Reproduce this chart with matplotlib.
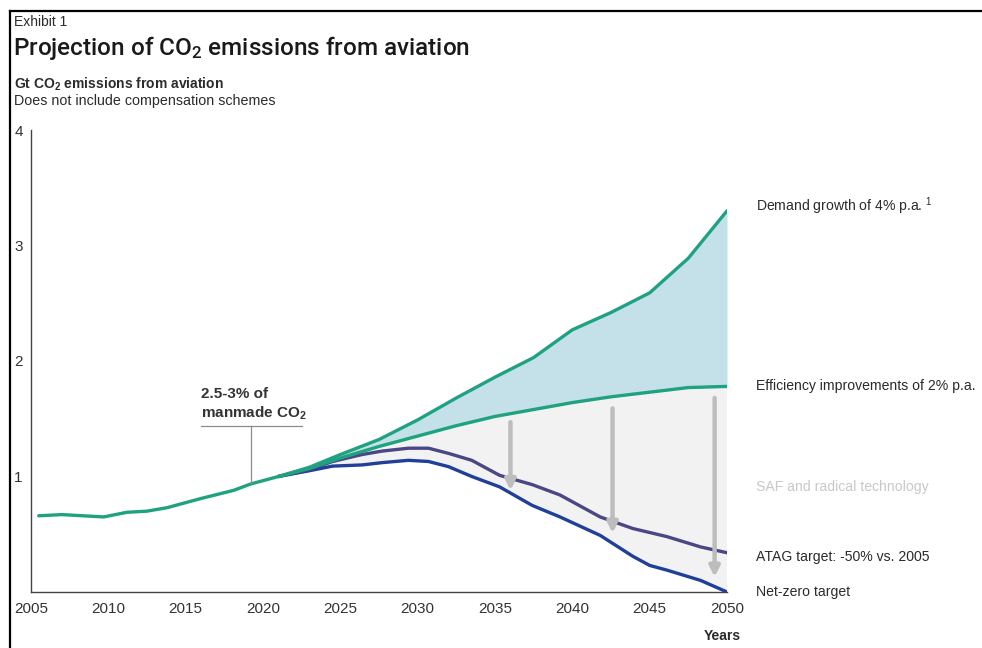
import matplotlib
matplotlib.use("Agg")
import matplotlib.pyplot as plt
from matplotlib.lines import Line2D

# Historical emissions (Gt CO2)
hist_years = [2005.5, 2007, 2009.7, 2011.2, 2012.5, 2013.8, 2016, 2018.1, 2019.2, 2021]
hist_vals = [0.66, 0.67, 0.65, 0.69, 0.70, 0.73, 0.81, 0.88, 0.935, 1.0]

# Projection scenarios
proj_years = [2021, 2023, 2025, 2027.5, 2030, 2032.5, 2035, 2037.5, 2040, 2042.5, 2045, 2047.5, 2050]
demand_vals = [1.0, 1.08, 1.19, 1.32, 1.49, 1.68, 1.86, 2.03, 2.27, 2.42, 2.59, 2.89, 3.30]
efficiency_vals = [1.0, 1.07, 1.16, 1.26, 1.35, 1.44, 1.52, 1.58, 1.64, 1.69, 1.73, 1.77, 1.78]

atag_years = [2021, 2023, 2024.5, 2026.4, 2027.7, 2029.4, 2030.7, 2032, 2033.5, 2035.3,
              2037.4, 2039.2, 2041.8, 2043.9, 2046.1, 2048.3, 2050]
atag_vals = [1.0, 1.06, 1.13, 1.19, 1.22, 1.245, 1.245, 1.20, 1.14, 1.01,
             0.93, 0.84, 0.65, 0.55, 0.48, 0.39, 0.34]

netzero_years = [2021, 2023, 2024.5, 2026.4, 2027.7, 2029.4, 2030.7, 2032, 2033.5, 2035.3,
                 2037.4, 2039.2, 2041.8, 2043.9, 2045, 2046.1, 2048.3, 2050]
netzero_vals = [1.0, 1.05, 1.09, 1.10, 1.12, 1.14, 1.13, 1.085, 1.0, 0.91,
                0.75, 0.65, 0.49, 0.31, 0.23, 0.19, 0.10, 0.0]

# Reduction arrows (year, from, to)
arrow_years = [2036, 2042.6, 2049.2]
arrow_top = [1.47, 1.59, 1.68]
arrow_bottom = [0.88, 0.51, 0.13]

x_ticks = [2005, 2010, 2015, 2020, 2025, 2030, 2035, 2040, 2045, 2050]
y_ticks = [1, 2, 3, 4]

GREEN = "#1fa27f"
PURPLE = "#4b4785"
BLUE = "#1f3f98"
TXT = "#2b2b2b"
BODY = "Liberation Sans"

W, H = 982, 648
fig = plt.figure(figsize=(W / 100, H / 100), dpi=100)
ax = fig.add_axes([31 / W, (H - 592) / H, (727 - 31) / W, (592 - 130) / H])
ax.set_xlim(2005, 2050)
ax.set_ylim(0, 4)

# shaded areas
ax.fill_between(proj_years, efficiency_vals, demand_vals, color="#c4e1ea", lw=0, zorder=1)
ax.fill(proj_years + netzero_years[::-1], efficiency_vals + netzero_vals[::-1],
        color="#f2f2f2", lw=0, zorder=1)

# lines
ax.plot(hist_years, hist_vals, color=GREEN, lw=2.4, solid_capstyle="round", zorder=5)
ax.plot(netzero_years, netzero_vals, color=BLUE, lw=2.4, solid_capstyle="round", zorder=4)
ax.plot(atag_years, atag_vals, color=PURPLE, lw=2.4, solid_capstyle="round", zorder=4)
ax.plot(proj_years, efficiency_vals, color=GREEN, lw=2.4, solid_capstyle="round", zorder=5)
ax.plot(proj_years, demand_vals, color=GREEN, lw=2.4, solid_capstyle="round", zorder=5)

for xa, y0, y1 in zip(arrow_years, arrow_top, arrow_bottom):
    ax.annotate("", xy=(xa, y1), xytext=(xa, y0),
                arrowprops=dict(arrowstyle="-|>,head_length=0.6,head_width=0.3",
                                color="#bdbdbd", lw=3.2, shrinkA=0, shrinkB=0),
                zorder=6)

# axes styling
for s in ["top", "right"]:
    ax.spines[s].set_visible(False)
for s in ["left", "bottom"]:
    ax.spines[s].set_color("#444444")
    ax.spines[s].set_linewidth(1.0)
ax.set_xticks(x_ticks)
ax.set_xticklabels([str(t) for t in x_ticks], fontfamily=BODY, fontsize=11, color="#333333")
ax.set_yticks(y_ticks)
ax.set_yticklabels([str(t) for t in y_ticks], fontfamily=BODY, fontsize=11, color="#333333")
ax.tick_params(axis="both", length=0)
ax.tick_params(axis="x", pad=7)
ax.tick_params(axis="y", pad=12)
for lab in ax.get_yticklabels():
    lab.set_horizontalalignment("left")
ax.patch.set_alpha(0)

def fx(px):
    return px / W

def fy(py):
    return 1 - py / H

# outer frame
fig.add_artist(Line2D([fx(10), fx(10)], [0, fy(11)], color="black", lw=1.6))
fig.add_artist(Line2D([fx(10), 1], [fy(11), fy(11)], color="black", lw=1.6))

fig.text(fx(14), fy(22), "Exhibit 1", fontfamily=BODY, fontsize=10, color=TXT, va="center")
fig.text(fx(13), fy(48), r"Projection of CO$\mathregular{_2}$ emissions from aviation",
         fontfamily="Roboto", fontsize=17.5, fontweight="medium", color="#1a1a1a", va="center")
fig.text(fx(14), fy(84), r"Gt CO$\mathregular{_2}$ emissions from aviation", fontfamily=BODY,
         fontsize=10, fontweight="bold", color=TXT, va="center")
fig.text(fx(14), fy(101), "Does not include compensation schemes", fontfamily=BODY,
         fontsize=10.3, color=TXT, va="center")

# right-hand labels
lab_x = fx(756)
lab_fs = 10.1
fig.text(lab_x, fy(206), r"Demand growth of 4% p.a. $\mathregular{^{1}}$", fontfamily=BODY,
         fontsize=lab_fs, color=TXT, va="center")
fig.text(lab_x, fy(386), "Efficiency improvements of 2% p.a.", fontfamily=BODY, fontsize=lab_fs,
         color=TXT, va="center")
fig.text(lab_x, fy(487), "SAF and radical technology", fontfamily=BODY, fontsize=lab_fs,
         color="#c8c8c8", va="center")
fig.text(lab_x, fy(557), "ATAG target: -50% vs. 2005", fontfamily=BODY, fontsize=lab_fs,
         color=TXT, va="center")
fig.text(lab_x, fy(592), "Net-zero target", fontfamily=BODY, fontsize=lab_fs,
         color=TXT, va="center")
fig.text(fx(741), fy(636), "Years", fontfamily=BODY, fontsize=10, fontweight="bold",
         color=TXT, va="center", ha="right")

# share-of-emissions callout
ax.text(2016.0, 1.475, "2.5-3% of\n" + r"manmade CO$\mathregular{_2}$", fontfamily=BODY,
        fontsize=11, fontweight="bold", color="#333333", va="bottom", ha="left",
        linespacing=1.25, zorder=7)
ax.plot([2016.0, 2022.55], [1.437, 1.437], color="#8c8c8c", lw=0.9, zorder=7)
ax.plot([2019.24, 2019.24], [1.437, 0.94], color="#8c8c8c", lw=0.9, zorder=7)

fig.savefig("out.png", dpi=100)
